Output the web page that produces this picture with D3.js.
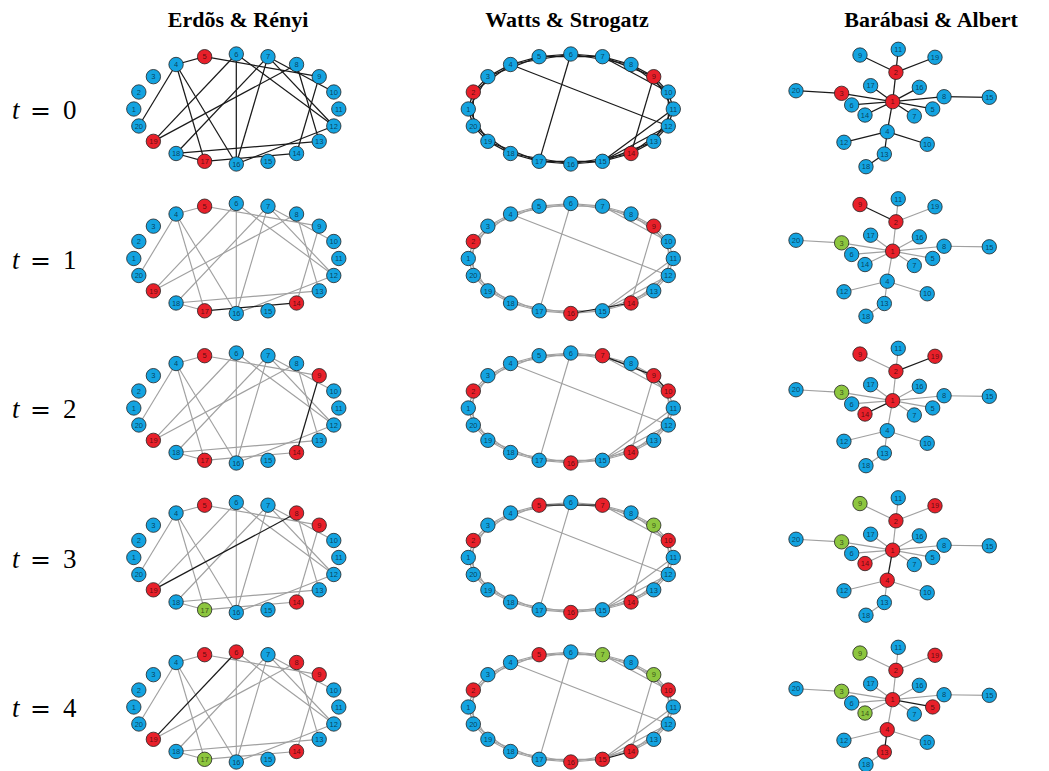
<!DOCTYPE html>
<html>
<head>
<meta charset="utf-8">
<script src="https://cdn.jsdelivr.net/npm/d3@7"></script>
<style>
  body { margin: 0; background: #fff; }
  svg { display: block; }
</style>
</head>
<body>
<svg id="chart" width="1049" height="771"></svg>
<script>
// ---- data -------------------------------------------------------------
const models = ["Erdõs & Rényi", "Watts & Strogatz", "Barábasi & Albert"];
const steps = [0, 1, 2, 3, 4];
const nodeIds = d3.range(1, 21);

// Erdős–Rényi random graph
const erEdges = [[4,5],[4,20],[4,17],[4,16],[5,9],[6,19],[6,16],[6,12],[7,18],[7,16],
                 [7,10],[7,12],[8,19],[8,13],[9,14],[13,18],[17,18],[14,17],[12,16]];

// Watts–Strogatz small world (ring lattice k=4 plus shortcuts)
const wsEdges = [[1,2],[2,3],[3,4],[4,5],[5,6],[6,7],[7,8],[8,9],[9,10],[10,11],
                 [11,12],[12,13],[13,14],[14,15],[15,16],[16,17],[17,18],[18,19],[19,20],[20,1],
                 [1,3],[2,4],[3,5],[4,6],[5,7],[6,8],[7,9],[8,10],[9,11],[10,12],
                 [11,13],[12,14],[13,15],[14,16],[15,17],[16,18],[17,19],[18,20],[19,1],[20,2],
                 [4,12],[6,17],[9,14],[11,15],[12,15],[7,10]];

// Barabási–Albert tree (m = 1)
const baEdges = [[1,2],[1,3],[1,4],[1,5],[1,6],[1,7],[1,8],[1,14],[1,16],[1,17],
                 [2,9],[2,11],[2,19],[3,20],[4,10],[4,12],[4,13],[13,18],[8,15]];
// force-directed layout coordinates (unit box) for nodes 1..20
const baLayoutX = [0.500,0.517,0.236,0.472,0.707,0.288,0.612,0.766,0.331,0.679,
                   0.529,0.248,0.457,0.357,1.000,0.638,0.386,0.362,0.719,0.000];
const baLayoutY = [0.446,0.196,0.375,0.702,0.508,0.474,0.568,0.404,0.049,0.809,
                   0.000,0.792,0.892,0.560,0.409,0.324,0.310,1.000,0.068,0.353];

// epidemic states per time step: infected, recovered, transmitting edges
const erInfected  = [[5,17,19],[5,14,17,19],[5,9,14,17,19],[5,8,9,14,19],[5,6,8,9,14,19]];
const erRecovered = [[],[],[],[17],[17]];
const erActive    = [[],[[14,17]],[[9,14]],[[8,19]],[[6,19]]];

const wsInfected  = [[2,9,14],[2,9,14,16],[2,7,9,10,14,16],[2,5,7,10,14,16],[2,5,10,14,15,16]];
const wsRecovered = [[],[],[],[9],[7,9]];
const wsActive    = [[],[[14,16]],[[7,9],[9,10]],[[5,7]],[[14,15]]];

const baInfected  = [[1,2,3],[1,2,9],[1,2,9,14,19],[1,2,4,14,19],[1,2,4,5,13,19]];
const baRecovered = [[],[3],[3],[3,9],[3,9,14]];
const baActive    = [[],[[2,9]],[[2,19],[1,14]],[[1,4]],[[1,5],[4,13]]];

// ---- styling ------------------------------------------------------------
const stateColor = { S: "#14a3e0", I: "#e8202a", R: "#8dc63f" };
const edgeDark = "#1a1a1a", edgeLight = "#a0a0a0";
const nodeR = 7.2;
const rowGap = 149.5;
const serif = "'Liberation Serif', 'DejaVu Serif', serif";

const svg = d3.select("#chart");

// column headers
const headerX = [238, 567, 931];
svg.selectAll("text.header").data(models).join("text")
  .attr("class", "header")
  .attr("x", (d, i) => headerX[i]).attr("y", 27)
  .attr("text-anchor", "middle")
  .attr("font-family", serif)
  .attr("font-weight", "bold").attr("font-size", 22)
  .attr("fill", "#000")
  .text(d => d);

// row labels  t = k
steps.forEach(t => {
  const y = 119 + rowGap * t;
  const g = svg.append("g").attr("font-family", serif)
    .attr("font-size", 27).attr("fill", "#000");
  g.append("text").attr("x", 12).attr("y", y).attr("font-style", "italic").text("t");
  g.append("text").attr("x", 30).attr("y", y)
    .attr("font-family", "'DejaVu Serif', serif").attr("font-size", 25).text("=");
  g.append("text").attr("x", 63).attr("y", y).text(String(t));
});

// circular layout for ER and WS panels
function circleLayout(cx, cy) {
  const sx = d3.scaleLinear().domain([-1, 1]).range([cx - 102.5, cx + 102.5]);
  const sy = d3.scaleLinear().domain([-1, 1]).range([cy + 55, cy - 55]);
  const angle = d3.scaleLinear().domain([1, 21]).range([Math.PI, -Math.PI]);
  const pos = {};
  nodeIds.forEach(id => {
    const a = angle(id);
    pos[id] = [sx(Math.cos(a)), sy(Math.sin(a))];
  });
  return pos;
}

function baPositions(cy0) {
  const sx = d3.scaleLinear().domain([0, 1]).range([796, 989.3]);
  const sy = d3.scaleLinear().domain([0, 1]).range([cy0 - 52.4, cy0 + 65]);
  const pos = {};
  nodeIds.forEach((id, i) => { pos[id] = [sx(baLayoutX[i]), sy(baLayoutY[i])]; });
  return pos;
}

function drawPanel(pos, edges, infected, recovered, active, t) {
  const g = svg.append("g");
  const key = (a, b) => a < b ? a + "-" + b : b + "-" + a;
  const activeSet = new Set(active.map(e => key(e[0], e[1])));
  const edgeData = edges.map(e => ({
    s: e[0], d: e[1],
    dark: t === 0 || activeSet.has(key(e[0], e[1]))
  })).sort((a, b) => a.dark - b.dark);

  g.selectAll("line").data(edgeData).join("line")
    .attr("x1", e => pos[e.s][0]).attr("y1", e => pos[e.s][1])
    .attr("x2", e => pos[e.d][0]).attr("y2", e => pos[e.d][1])
    .attr("stroke", e => e.dark ? edgeDark : edgeLight)
    .attr("stroke-width", e => e.dark ? 1.25 : 1.15);

  const inf = new Set(infected), rec = new Set(recovered);
  const state = id => inf.has(id) ? "I" : rec.has(id) ? "R" : "S";

  const nodes = g.selectAll("g.node").data(nodeIds).join("g")
    .attr("class", "node")
    .attr("transform", id => `translate(${pos[id][0]},${pos[id][1]})`);
  nodes.append("circle").attr("r", nodeR)
    .attr("fill", id => stateColor[state(id)])
    .attr("stroke", "#222").attr("stroke-width", 0.8);
  nodes.append("text")
    .attr("text-anchor", "middle").attr("dy", "0.36em")
    .attr("font-family", "'Liberation Sans', Arial, sans-serif")
    .attr("font-size", 7.5)
    .attr("fill", "#000").attr("fill-opacity", 0.62)
    .text(id => id);
}

steps.forEach(t => {
  const cy = 109 + rowGap * t;
  drawPanel(circleLayout(236.3, cy), erEdges, erInfected[t], erRecovered[t], erActive[t], t);
  drawPanel(circleLayout(570.8, cy), wsEdges, wsInfected[t], wsRecovered[t], wsActive[t], t);
  drawPanel(baPositions(101.7 + rowGap * t), baEdges, baInfected[t], baRecovered[t], baActive[t], t);
});
</script>
</body>
</html>
